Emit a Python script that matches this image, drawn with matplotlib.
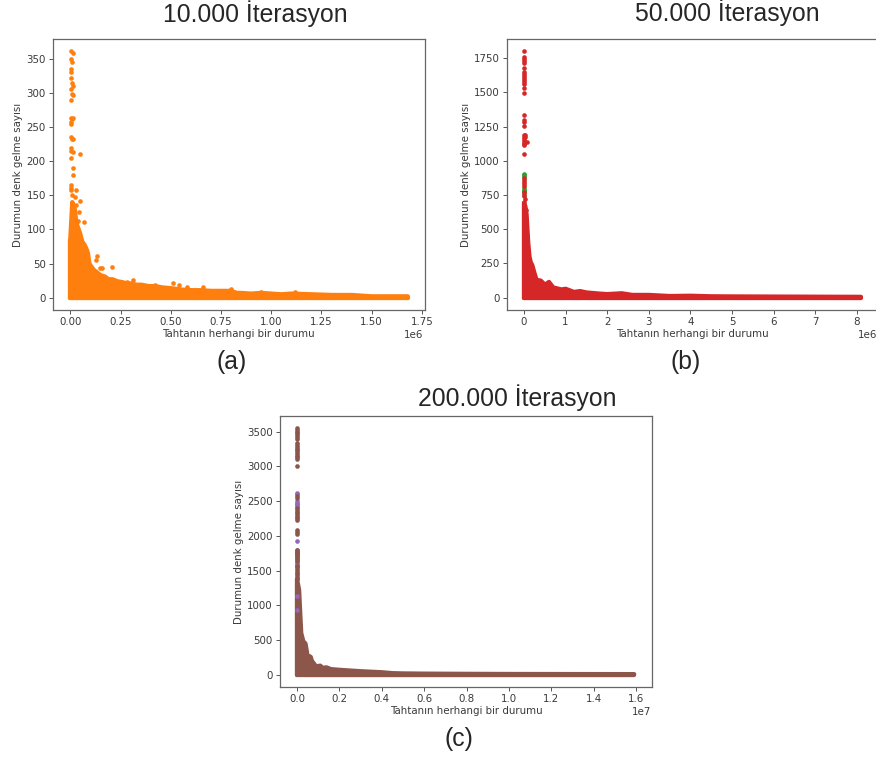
import matplotlib
matplotlib.use("Agg")
import matplotlib.pyplot as plt
from matplotlib.ticker import FixedLocator, FuncFormatter

W, H = 876, 760
XLABEL = "Tahtanın herhangi bir durumu"
YLABEL = "Durumun denk gelme sayısı"
ORANGE, RED, GREEN, BROWN, PURPLE = "#ff7f0e", "#d62728", "#2ca02c", "#8c564b", "#9467bd"

# Panel (a): upper envelope of the dense cloud, and points standing out of it
a_env_x = [0, .01, .02, .023, .03, .048, .06, .07, .08, .088, .095, .106, .12, .13, .15, .173, .19, .21, .235, .256,
           .28, .3, .33, .355, .39, .42, .46, .5, .55, .6, .65, .7, .75, .8, .83, .85, .9, .95, 1.0, 1.05, 1.1, 1.2, 1.3,
           1.4, 1.5, 1.6, 1.68]
a_env_y = [85, 140, 132, 129, 110, 95, 82, 78, 72, 65, 50, 45, 40, 38, 33, 31, 27, 27, 24, 23,
           21, 21, 19, 19, 17, 17, 15, 14, 12, 11, 11, 10, 10, 10, 7, 7, 6, 7, 6, 5, 6, 5, 4,
           4, 2, 2, 2]
a_out_x = [.005, .012, .003, .008, .004, .006, .005, .007, .012, .003, .008, .015, .004, .006, .009, .003, .012, .005,
           .015, .006, .01, .003, .005, .015, .005, .012, .015, .003, .006, .003, .008, .05, .135, .13, .21, .16, .15,
           .05, .03, .07, .31, .51, .58, .66, .8, .28, .42, .54, .045, .04, .025, .03, .07, .075, .085, .09, .95, 1.12]
a_out_y = [362, 358, 350, 345, 335, 330, 322, 314, 310, 306, 298, 297, 290, 263, 262, 258, 264, 255,
           233, 235, 232, 220, 215, 213, 205, 190, 180, 165, 160, 158, 150, 211, 61, 55, 45, 44, 44,
           142, 158, 111, 26, 21, 16, 15, 13, 23, 19, 18, 125, 113, 148, 136, 70, 62, 57, 53, 9, 8]

# Panel (b)
b_env_x = [0, .03, .06, .1, .13, .16, .2, .25, .3, .4, .5, .6, .7, .9, 1, 1.2, 1.35, 1.5, 1.8, 2, 2.35, 2.6, 3, 3.5, 4,
           4.5, 5, 6, 7, 8.1]
b_env_y = [690, 670, 610, 400, 300, 260, 235, 180, 130, 125, 95, 115, 75, 60, 65, 42, 48, 38, 30, 26, 32, 20, 20, 12,
           14, 10, 9, 8, 7, 6]
b_green_y = [905, 895, 885, 800, 790, 780, 750]
b_red_x = [0, 0, 0, 0, 0, 0, 0, 0, 0, 0, 0, 0, 0, 0, 0, 0, 0, 0, 0, 0, 0, 0, 0, 0, 0, 0,
           .03, .02, .06, .01, 0, 0, 0, 0, 0, 0, .03, 0, 0, .05, 0]
b_red_y = [1805, 1760, 1745, 1730, 1715, 1680, 1650, 1635, 1620, 1605, 1590, 1575, 1560, 1530, 1495, 1335, 1300, 1285,
           1255, 1190, 1175, 1160, 1145, 1130, 1115, 1050,
           1190, 1175, 1140, 1120, 875, 860, 845, 830, 815, 770, 720, 740, 700, 640, 765]

# Panel (c)
c_env_x = [0, .005, .01, .015, .02, .03, .04, .05, .06, .065, .07, .08, .09, .11, .12, .14, .16, .2, .25, .3, .4,
           .45, .5, .6, .8, 1, 1.59]
c_env_y = [1370, 1300, 1220, 900, 600, 480, 450, 270, 265, 255, 200, 160, 120, 130, 100, 105, 80, 70, 60, 50, 35,
           22, 18, 15, 12, 10, 8]
c_purple_x = [0] * 15
c_purple_y = [2620, 2600, 2500, 2480, 2460, 2440, 2420, 1920, 1800, 1660, 1620, 1600, 1580, 1130, 930]
c_brown_x = [0] * 50
c_brown_y = [3550, 3525, 3500, 3475, 3450, 3425, 3400, 3330, 3305, 3280, 3255, 3230, 3205, 3180, 3155, 3130, 3105,
             3000, 2570, 2550, 2400, 2375, 2350, 2325, 2300, 2275, 2250, 2225, 2080, 2060, 2020,
             1790, 1765, 1740, 1715, 1690, 1665, 1640, 1545, 1520, 1495, 1470, 1450, 1420, 1400, 1380, 1560, 1770, 1750, 1730]

# Ticks
a_xticks = [0, .25, .5, .75, 1, 1.25, 1.5, 1.75]
a_yticks = [0, 50, 100, 150, 200, 250, 300, 350]
b_xticks = [0, 1, 2, 3, 4, 5, 6, 7, 8]
b_yticks = [0, 250, 500, 750, 1000, 1250, 1500, 1750]
c_xticks = [0, .2, .4, .6, .8, 1, 1.2, 1.4, 1.6]
c_yticks = [0, 500, 1000, 1500, 2000, 2500, 3000, 3500]

plt.rcParams["font.family"] = "DejaVu Sans"
fig = plt.figure(figsize=(W / 100, H / 100), dpi=100)
TEXT = "#3a3a3a"
FS = 7.4
MS = 11
LW = 3.1


def panel(box, xlim, ylim, xticks, yticks, fmt, scale, offset, env_x, env_y, color):
    l, r, t, b = box
    ax = fig.add_axes([l / W, 1 - b / H, (r - l) / W, (b - t) / H])
    ax.set_xlim(xlim)
    ax.set_ylim(ylim)
    xs = [v * scale for v in env_x]
    base = [0] * len(xs)
    ax.fill_between(xs, base, env_y, color=color, lw=0, zorder=2)
    ax.plot(xs, env_y, color=color, lw=LW, solid_capstyle="round", zorder=2)
    ax.plot(xs, base, color=color, lw=LW, solid_capstyle="round", zorder=2)
    ax.plot([xs[0], xs[0]], [0, env_y[0]], color=color, lw=LW, solid_capstyle="round", zorder=2)
    ax.xaxis.set_major_locator(FixedLocator([v * scale for v in xticks]))
    ax.yaxis.set_major_locator(FixedLocator(yticks))
    ax.xaxis.set_major_formatter(FuncFormatter(lambda v, p: fmt.format(v / scale)))
    ax.tick_params(colors=TEXT, labelsize=FS, length=2.6, width=0.7, color="#555555", pad=2.5)
    ax.set_xlabel(XLABEL, fontsize=FS, color=TEXT, labelpad=1.2)
    ax.set_ylabel(YLABEL, fontsize=FS, color=TEXT, labelpad=2.5)
    for s in ax.spines.values():
        s.set_color("#666666")
        s.set_linewidth(0.9)
    fig.text((r - 1) / W, 1 - (b + 25) / H, offset, ha="right", va="center", fontsize=FS, color=TEXT)
    return ax


def sc(ax, xs, ys, color, z=3):
    ax.scatter(xs, ys, s=MS, color=color, linewidths=0, zorder=z)


ax = panel((53, 424.5, 39, 310), (-0.086e6, 1.763e6), (-18, 379), a_xticks, a_yticks, "{:.2f}", 1e6, "1e6",
           a_env_x, a_env_y, ORANGE)
sc(ax, [v * 1e6 for v in a_out_x], a_out_y, ORANGE)

ax = panel((507, 878, 39, 310), (-0.41e6, 8.51e6), (-90, 1891), b_xticks, b_yticks, "{:.0f}", 1e6, "1e6",
           b_env_x, b_env_y, RED)
sc(ax, [0] * len(b_green_y), b_green_y, GREEN, 3)
sc(ax, [v * 1e6 for v in b_red_x], b_red_y, RED, 4)

ax = panel((280, 652, 416, 687), (-0.08e7, 1.674e7), (-177, 3726), c_xticks, c_yticks, "{:.1f}", 1e7, "1e7",
           c_env_x, c_env_y, BROWN)
sc(ax, [v * 1e7 for v in c_purple_x], c_purple_y, PURPLE, 3)
sc(ax, [v * 1e7 for v in c_brown_x], c_brown_y, BROWN, 4)

TITLE_FS = 17.8
for txt, x, y in [("10.000 İterasyon", 255, 14), ("50.000 İterasyon", 727, 13),
                  ("200.000 İterasyon", 517, 398), ("(a)", 232, 362),
                  ("(b)", 686, 362), ("(c)", 459, 739)]:
    fig.text(x / W, 1 - y / H, txt, ha="center", va="center", fontsize=TITLE_FS, color="#262626",
             family="Liberation Sans")

fig.savefig("out.png", dpi=100, facecolor="white")
